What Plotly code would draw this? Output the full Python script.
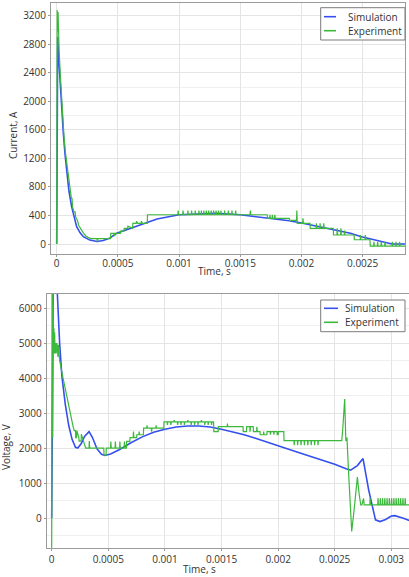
import plotly.graph_objects as go

# ---------------- Top chart: Current ----------------
sim_i_t = [0, 0.000008, 0.000015, 0.000027, 0.00004, 0.000054, 0.000068, 0.000082, 0.0001, 0.000122,
           0.000142, 0.000163, 0.00019, 0.000218, 0.00027, 0.00033, 0.00038, 0.00043, 0.00049, 0.00057,
           0.00068, 0.00082, 0.001, 0.0012, 0.0013, 0.0015, 0.0017, 0.0019, 0.002, 0.0022,
           0.0024, 0.00249, 0.0026, 0.00274, 0.00285]
sim_i = [0, 2900, 2650, 2256, 1880, 1558, 1260, 997, 740, 524,
         370, 243, 160, 103, 55, 35, 50, 80, 150, 200,
         267, 351, 410, 428, 430, 410, 372, 325, 295, 225,
         150, 103, 55, 0, 0]

exp_i_t = [0, 0.000004, 0.000008, 0.000011, 0.000014, 0.00002, 0.00003, 0.00004, 0.00005, 0.00006,
           0.00007, 0.00008, 0.00009, 0.0001, 0.00011, 0.00012, 0.000125, 0.00013, 0.00014, 0.00015,
           0.000155, 0.00017, 0.00018, 0.00019, 0.0002, 0.00021, 0.00022, 0.00023, 0.00024, 0.00026,
           0.00028, 0.00033, 0.000332, 0.000336, 0.00044, 0.000442, 0.00047, 0.000472, 0.000478, 0.00052,
           0.000522, 0.00055, 0.000552, 0.00058, 0.000582, 0.00062, 0.000622, 0.00065, 0.000652, 0.00066,
           0.000662, 0.00069, 0.000692, 0.0007, 0.000702, 0.00074, 0.000742,
           0.00099, 0.000992, 0.000996, 0.00103, 0.001032, 0.001036, 0.00107, 0.001072, 0.001076,
           0.0011, 0.001102, 0.001106, 0.00113, 0.001132, 0.001136, 0.00116, 0.001162, 0.001166,
           0.00118, 0.001182, 0.001186, 0.0012, 0.001202, 0.001206, 0.00122, 0.001222, 0.001226,
           0.00124, 0.001242, 0.001246, 0.00126, 0.001262, 0.001266, 0.00128, 0.001282, 0.001286,
           0.0013, 0.001302, 0.001306, 0.00132, 0.001322, 0.001326, 0.00134, 0.001342, 0.001346,
           0.00137, 0.001372, 0.001376, 0.0014, 0.001402, 0.001406, 0.00143, 0.001432, 0.001436,
           0.00146, 0.001462, 0.001466, 0.00158, 0.001582, 0.001586,
           0.00172, 0.001722, 0.00174, 0.001742, 0.001746, 0.00176, 0.001762, 0.001766, 0.00178, 0.001782,
           0.001786, 0.0019, 0.001902, 0.00196, 0.001962, 0.001966,
           0.00201, 0.002012, 0.002016, 0.00207, 0.002072, 0.00212, 0.002122, 0.002126, 0.00215, 0.002152,
           0.002156, 0.00218, 0.002182, 0.002186, 0.00226, 0.002262, 0.00229, 0.002292, 0.002296,
           0.00232, 0.002322, 0.002326, 0.00235, 0.002352, 0.002356, 0.00243, 0.002432, 0.00248, 0.002482,
           0.002486, 0.00252, 0.002522, 0.002526, 0.00256, 0.002562, 0.00259, 0.002592, 0.002596,
           0.00262, 0.002622, 0.002626, 0.00265, 0.002652, 0.002656, 0.00268, 0.002682, 0.002686,
           0.00274, 0.002742, 0.002746, 0.00277, 0.002772, 0.002776, 0.0028, 0.002802, 0.002806, 0.00285]
exp_i = [0, 3280, 2980, 3250, 2950, 2700, 2350, 2000, 1750, 1500,
         1300, 1150, 1000, 880, 760, 640, 640, 520, 450, 450,
         380, 330, 260, 230, 200, 160, 150, 130, 110, 90,
         75, 75, 25, 75, 75, 150, 150, 110, 150, 150,
         180, 180, 220, 220, 250, 220, 290, 290, 320, 290,
         290, 290, 320, 290, 290, 290, 410,
         410, 470, 410, 410, 470, 410, 410, 470, 410,
         410, 470, 410, 410, 470, 410, 410, 470, 410,
         410, 470, 410, 410, 470, 410, 410, 470, 410,
         410, 470, 410, 410, 470, 410, 410, 470, 410,
         410, 470, 410, 410, 470, 410, 410, 470, 410,
         410, 470, 410, 410, 470, 410, 410, 470, 410,
         410, 470, 410, 410, 470, 410,
         410, 360, 360, 410, 360, 360, 410, 360, 360, 410,
         360, 360, 330, 330, 470, 290,
         290, 360, 290, 290, 220, 220, 290, 220, 220, 290,
         220, 220, 290, 220, 220, 126, 126, 220, 126,
         126, 220, 126, 126, 190, 126, 126, 60, 60, 126,
         60, 60, 126, 60, 60, -30, -30, 30, -30,
         -30, 30, -30, -30, 30, -30, -30, 30, -30,
         -30, 30, -30, -30, 30, -30, -30, 30, -30, -30]

# ---------------- Bottom chart: Voltage ----------------
sim_v_t = [0, 0.00002, 0.00004, 0.00005, 0.00007, 0.00009, 0.00012, 0.00015, 0.00018, 0.00021,
           0.00023, 0.00026, 0.00029, 0.00033, 0.00036, 0.0004, 0.00044, 0.00047, 0.00052, 0.0006,
           0.0007, 0.0008, 0.0009, 0.001, 0.0011, 0.0012, 0.0013, 0.0014, 0.0015, 0.0016,
           0.0017, 0.0018, 0.0019, 0.002, 0.0021, 0.0022, 0.0023, 0.0024, 0.0025, 0.0026,
           0.00264, 0.0027, 0.00275, 0.0028, 0.00286, 0.0029, 0.00295, 0.003, 0.00303, 0.0031, 0.00316]
sim_v = [0, 9500, 7600, 6400, 5000, 4050, 3250, 2650, 2250, 2020,
         2000, 2120, 2330, 2470, 2300, 1980, 1820, 1790, 1830, 1960,
         2150, 2320, 2450, 2540, 2600, 2630, 2630, 2600, 2540, 2470,
         2380, 2280, 2180, 2080, 1960, 1850, 1750, 1650, 1540, 1410,
         1370, 1500, 1700, 800, -50, -100, -40, 60, 70, 0, -70]

exp_v_t = [0, 0.000004, 0.000009, 0.000012, 0.000016, 0.00002, 0.000022, 0.000026, 0.00003, 0.000035,
           0.00004, 0.000045, 0.00005, 0.000055, 0.00006, 0.00007, 0.00008, 0.00009, 0.0001, 0.00011,
           0.00012, 0.00013, 0.00014, 0.00015, 0.00016, 0.00017, 0.00018, 0.00019, 0.0002, 0.00021,
           0.000212, 0.00022, 0.000222, 0.00024, 0.000242, 0.00026, 0.000262, 0.00028, 0.0003, 0.00033,
           0.000332, 0.000336, 0.00046, 0.000462, 0.00048, 0.000482, 0.00052, 0.000522, 0.000526, 0.00056,
           0.000562, 0.000566, 0.0006, 0.000602, 0.000606, 0.00064, 0.000642, 0.000646, 0.00066, 0.000662,
           0.00069, 0.000692, 0.00072, 0.000722, 0.000726, 0.00075, 0.000752, 0.00077, 0.000772, 0.000776,
           0.00081, 0.000812, 0.00084, 0.000842, 0.000846, 0.00088, 0.000882, 0.000886, 0.00092, 0.000922,
           0.000926, 0.00099, 0.000992,
           0.00102, 0.001022, 0.001026, 0.00105, 0.001052, 0.001056, 0.00108, 0.001082, 0.001086,
           0.00111, 0.001112, 0.001116, 0.00114, 0.001142, 0.001146, 0.00117, 0.001172, 0.001176,
           0.0012, 0.001202, 0.001206, 0.00123, 0.001232, 0.001236, 0.00126, 0.001262, 0.001266,
           0.00129, 0.001292, 0.001296, 0.00132, 0.001322, 0.001326, 0.00135, 0.001352, 0.001356,
           0.00138, 0.001382, 0.001386, 0.00141, 0.001412, 0.001416, 0.00143, 0.001432, 0.00147, 0.001472,
           0.00155, 0.001552, 0.001556, 0.00169, 0.001692, 0.00172, 0.001722, 0.00175, 0.001752, 0.001756,
           0.00178, 0.001782, 0.00181, 0.001812, 0.001816, 0.00184, 0.001842, 0.00187, 0.001872, 0.001876,
           0.0019, 0.001902, 0.00193, 0.001932, 0.001936, 0.00196, 0.001962, 0.001966, 0.00199, 0.001992,
           0.002, 0.002002, 0.00205, 0.002052, 0.00214, 0.002142, 0.002146, 0.00217, 0.002172, 0.002176,
           0.0022, 0.002202, 0.002206, 0.00223, 0.002232, 0.002236, 0.00226, 0.002262, 0.002266, 0.00229,
           0.002292, 0.002296, 0.00232, 0.002322, 0.002326, 0.00235, 0.002352, 0.002356, 0.00237, 0.002562,
           0.00257, 0.002588, 0.002598, 0.002608, 0.002621, 0.00265, 0.00267, 0.002685, 0.0027, 0.002715,
           0.00273, 0.00274, 0.002755, 0.00276, 0.00281, 0.002812, 0.002816, 0.00288, 0.002882, 0.002886,
           0.0029, 0.002902, 0.002906, 0.00292, 0.002922, 0.002926, 0.00294, 0.002942, 0.002946, 0.00296,
           0.002962, 0.002966, 0.00298, 0.002982, 0.002986, 0.003, 0.003002, 0.003006, 0.00302, 0.003022,
           0.003026, 0.00304, 0.003042, 0.003046, 0.00306, 0.003062, 0.003066, 0.00308, 0.003082, 0.003086,
           0.0031, 0.003102, 0.003106, 0.00312, 0.003122, 0.003126, 0.00316]
exp_v = [-900, 7000, 2300, 6500, 5400, 5400, 4700, 5300, 4700, 5000,
         4700, 5000, 4900, 4600, 4950, 4500, 4300, 4150, 4000, 3850,
         3700, 3500, 3300, 3150, 3000, 2850, 2700, 2600, 2500, 2500,
         2300, 2300, 2500, 2300, 2200, 2200, 2400, 2200, 2000, 2000,
         2200, 2000, 2000, 1800, 1800, 2000, 2000, 2190, 2000, 2000,
         2190, 2000, 2000, 2190, 2000, 2000, 2190, 2000, 2000, 2190,
         2190, 2300, 2300, 2470, 2300, 2300, 2380, 2380, 2470, 2380,
         2380, 2570, 2570, 2650, 2570, 2570, 2470, 2570, 2570, 2650,
         2570, 2570, 2750,
         2750, 2660, 2750, 2750, 2660, 2750, 2750, 2800, 2750,
         2750, 2660, 2750, 2750, 2660, 2750, 2750, 2660, 2750,
         2750, 2800, 2750, 2750, 2660, 2750, 2750, 2660, 2750,
         2750, 2660, 2750, 2750, 2800, 2750, 2750, 2660, 2750,
         2750, 2660, 2750, 2750, 2660, 2750, 2750, 2470, 2470, 2610,
         2610, 2700, 2610, 2610, 2470, 2470, 2610, 2610, 2470, 2610,
         2610, 2470, 2470, 2610, 2470, 2470, 2380, 2380, 2470, 2380,
         2380, 2470, 2470, 2380, 2470, 2470, 2380, 2470, 2470, 2380,
         2380, 2470, 2470, 2215, 2215, 2080, 2215, 2215, 2080, 2215,
         2215, 2080, 2215, 2215, 2080, 2215, 2215, 2080, 2215, 2215,
         2080, 2215, 2215, 2080, 2215, 2215, 2080, 2215, 2215, 2215,
         2500, 3400, 2200, 2300, 1378, -380, 200, 700, 1170, 700,
         380, 380, 560, 380, 380, 570, 380, 380, 570, 380,
         380, 570, 380, 380, 570, 380, 380, 570, 380, 380,
         570, 380, 380, 570, 380, 380, 570, 380, 380, 570,
         380, 380, 570, 380, 380, 570, 380, 380, 570, 380,
         380, 570, 380, 380, 570, 380, 380]

# ---------------- Axis ticks and labels ----------------
top_x_ticks = [0, 0.0005, 0.001, 0.0015, 0.002, 0.0025]
top_x_labels = ["0", "0.0005", "0.001", "0.0015", "0.002", "0.0025"]
top_y_ticks = [0, 400, 800, 1200, 1600, 2000, 2400, 2800, 3200]
bot_x_ticks = [0, 0.0005, 0.001, 0.0015, 0.002, 0.0025, 0.003]
bot_x_labels = ["0", "0.0005", "0.001", "0.0015", "0.002", "0.0025", "0.003"]
bot_y_ticks = [0, 1000, 2000, 3000, 4000, 5000, 6000]
series_names = ["Simulation", "Experiment"]

W, H = 409, 577
BLUE = "#3550ee"
GREEN = "#3cb83c"
COLORS = [BLUE, GREEN]
FONT = "Open Sans, DejaVu Sans, sans-serif"

fig = go.Figure()
fig.add_trace(go.Scatter(x=sim_i_t, y=sim_i, mode="lines", name=series_names[0],
                         line=dict(color=BLUE, width=1.6), xaxis="x", yaxis="y"))
fig.add_trace(go.Scatter(x=exp_i_t, y=exp_i, mode="lines", name=series_names[1],
                         line=dict(color=GREEN, width=1.2), xaxis="x", yaxis="y"))
fig.add_trace(go.Scatter(x=sim_v_t, y=sim_v, mode="lines", name=series_names[0],
                         line=dict(color=BLUE, width=1.6), xaxis="x2", yaxis="y2"))
fig.add_trace(go.Scatter(x=exp_v_t, y=exp_v, mode="lines", name=series_names[1],
                         line=dict(color=GREEN, width=1.2), xaxis="x2", yaxis="y2"))

axis_common = dict(showline=True, linecolor="#9a9a9a", linewidth=1, mirror=True,
                   ticks="outside", ticklen=2, tickcolor="#9a9a9a",
                   gridcolor="#e4e4e4", gridwidth=1, zeroline=False,
                   tickfont=dict(family=FONT, size=10, color="#333"))


def px_x(p):
    return p / W


def px_y(p):
    return 1 - p / H


fig.update_layout(
    width=W, height=H, margin=dict(l=0, r=0, t=0, b=0),
    paper_bgcolor="white", plot_bgcolor="white",
    font=dict(family=FONT, size=10, color="#333"),
    showlegend=False,
    xaxis=dict(domain=[px_x(51), px_x(405)], anchor="y", range=[-0.0000466, 0.002846],
               tickvals=top_x_ticks, ticktext=top_x_labels, ticklabelstandoff=-2, **axis_common),
    yaxis=dict(domain=[px_y(254), px_y(3)], anchor="x", range=[-140, 3378],
               tickvals=top_y_ticks,
               minor=dict(dtick=200, tick0=0, showgrid=True, gridcolor="#f0f0f0", ticks=""),
               **axis_common),
    xaxis2=dict(domain=[px_x(46.7), 1], anchor="y2", range=[-0.0000442, 0.003156],
                tickvals=bot_x_ticks, ticktext=bot_x_labels, ticklabelstandoff=0, **axis_common),
    yaxis2=dict(domain=[px_y(547.7), px_y(294)], anchor="x2", range=[-845, 6400],
                tickvals=bot_y_ticks,
                minor=dict(dtick=500, tick0=0, showgrid=True, gridcolor="#f0f0f0", ticks=""),
                **axis_common),
)

ann_font = dict(family=FONT, size=10, color="#333")
fig.add_annotation(text="Current, A", x=px_x(13), y=px_y(135), xref="paper", yref="paper",
                   xanchor="center", yanchor="middle", textangle=-90, showarrow=False, font=ann_font)
fig.add_annotation(text="Time, s", x=px_x(214), y=px_y(270.5), xref="paper", yref="paper",
                   xanchor="center", yanchor="middle", showarrow=False, font=ann_font)
fig.add_annotation(text="Voltage, V", x=px_x(6), y=px_y(447), xref="paper", yref="paper",
                   xanchor="center", yanchor="middle", textangle=-90, showarrow=False, font=ann_font)
fig.add_annotation(text="Time, s", x=px_x(199), y=px_y(569), xref="paper", yref="paper",
                   xanchor="center", yanchor="middle", showarrow=False, font=ann_font)

# Legend boxes (drawn in paper coordinates), one per panel
legend_boxes = [
    dict(x0=320.7, x1=405, y0=7.7, y1=40, rows=[16.7, 30.7], lx0=324, lx1=336, tx=346),
    dict(x0=320.7, x1=405, y0=300, y1=331.7, rows=[308.3, 322.3], lx0=324, lx1=338, tx=343),
]
for box in legend_boxes:
    fig.add_shape(type="rect", xref="paper", yref="paper",
                  x0=px_x(box["x0"]), x1=px_x(box["x1"]), y0=px_y(box["y1"]), y1=px_y(box["y0"]),
                  line=dict(color="#7a7a7a", width=1), fillcolor="white", layer="above")
    for name, color, ry in zip(series_names, COLORS, box["rows"]):
        fig.add_shape(type="line", xref="paper", yref="paper",
                      x0=px_x(box["lx0"]), x1=px_x(box["lx1"]), y0=px_y(ry), y1=px_y(ry),
                      line=dict(color=color, width=1.6), layer="above")
        fig.add_annotation(text=name, x=px_x(box["tx"]), y=px_y(ry), xref="paper", yref="paper",
                           xanchor="left", yanchor="middle", showarrow=False,
                           font=dict(family=FONT, size=10, color="#333"))

fig.write_html("out.html")
